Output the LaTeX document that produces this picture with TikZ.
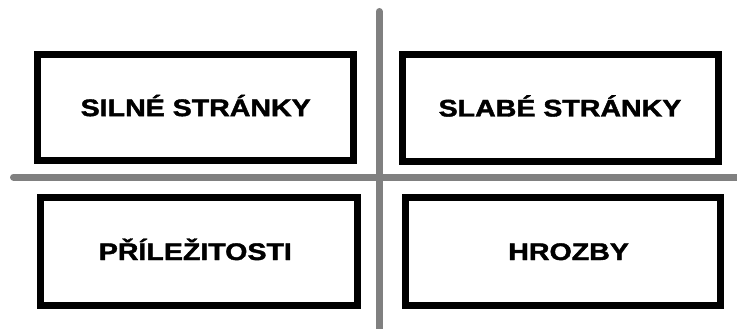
\documentclass[tikz,border=0pt]{standalone}
\usepackage{fontspec}
\setmainfont{Liberation Sans}[BoldFeatures={FakeBold=1.6}]
\begin{document}
\begin{tikzpicture}[x=1pt,y=-1pt,
  quad/.style={draw=black, line width=7pt, rectangle, inner sep=0pt,
    text height=17pt, text depth=0pt,
    font=\bfseries\fontsize{24}{28}\selectfont},
  axis/.style={draw=gray, line width=7pt, line cap=round}]
\useasboundingbox[fill=white] (0,0) rectangle (737,329);
\coordinate (vtop) at (379.2,11.5);
\coordinate (vbot) at (379.2,335);
\coordinate (hleft) at (13.5,177);
\coordinate (hright) at (745,177);
\draw[axis] (vtop) -- (vbot);
\draw[axis] (hleft) -- (hright);
\node[quad, minimum width=316pt, minimum height=106.2pt] (sw) at (195.7,107.6) {\scalebox{1.19}[1]{SILNÉ STRÁNKY}};
\node[quad, minimum width=316pt, minimum height=107pt] (wk) at (560,108) {\scalebox{1.19}[1]{SLABÉ STRÁNKY}};
\node[quad, minimum width=316.8pt, minimum height=108pt] (op) at (198.9,251.5) {\scalebox{1.19}[1]{\hspace{-6pt}PŘÍLEŽITOSTI}};
\node[quad, minimum width=315.3pt, minimum height=108pt] (th) at (562.65,251.5) {\scalebox{1.19}[1]{\hspace{10pt}HROZBY}};
\end{tikzpicture}
\end{document}
